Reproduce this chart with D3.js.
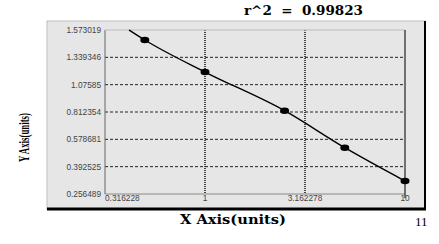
<!DOCTYPE html>
<html>
<head>
<meta charset="utf-8">
<script src="https://cdn.jsdelivr.net/npm/d3@7"></script>
<style>
  body { margin: 0; background: #fff; }
  svg { display: block; }
</style>
</head>
<body>
<svg id="chart" width="439" height="244"></svg>
<script>
// data
var xTicks = [0.316228, 1, 3.162278, 10];
var xTickLabels = ['0.316228', '1', '3.162278', '10'];
var yTicks = [1.573019, 1.339346, 1.07585, 0.812354, 0.578681, 0.392525, 0.256489];
var yTickLabels = ['1.573019', '1.339346', '1.07585', '0.812354', '0.578681', '0.392525', '0.256489'];
var pointX = [0.5, 1, 2.5, 5, 10];
var pointY = [1.4875, 1.1978, 0.8247, 0.5215, 0.3211];
var fitX = [0.417, 0.5, 1, 2.5, 5, 10];
var fitY = [1.573019, 1.4875, 1.1978, 0.8247, 0.5215, 0.3211];

var svg = d3.select('#chart');

var PLOT_L = 105, PLOT_R = 405, PLOT_T = 30, PLOT_B = 194;

var x = d3.scaleLog().domain([0.316228, 10]).range([PLOT_L, PLOT_R]);
// y axis ticks are evenly spaced, so map them piecewise
var y = d3.scaleLinear()
  .domain(yTicks)
  .range(yTicks.map(function (d, i) { return PLOT_T + i * (PLOT_B - PLOT_T) / (yTicks.length - 1); }));

// outer panel
svg.append('rect')
  .attr('x', 47).attr('y', 21).attr('width', 378).attr('height', 188)
  .attr('fill', '#e6e6e6').attr('stroke', '#bdbdbd').attr('stroke-width', 1);
svg.append('line').attr('x1', 47).attr('x2', 426).attr('y1', 209).attr('y2', 209)
  .attr('stroke', '#000').attr('stroke-width', 3);
svg.append('line').attr('x1', 425).attr('x2', 425).attr('y1', 21).attr('y2', 210)
  .attr('stroke', '#000').attr('stroke-width', 2);

// plot area
svg.append('rect')
  .attr('x', PLOT_L).attr('y', PLOT_T).attr('width', PLOT_R - PLOT_L).attr('height', PLOT_B - PLOT_T)
  .attr('fill', '#e6e6e6');

// grid
svg.append('g').selectAll('line')
  .data(yTicks.slice(1, -1))
  .join('line')
  .attr('x1', PLOT_L).attr('x2', PLOT_R)
  .attr('y1', function (d) { return y(d); }).attr('y2', function (d) { return y(d); })
  .attr('stroke', '#222').attr('stroke-width', 1).attr('stroke-dasharray', '3,2');

svg.append('g').selectAll('line')
  .data(xTicks.slice(1, -1))
  .join('line')
  .attr('x1', function (d) { return x(d); }).attr('x2', function (d) { return x(d); })
  .attr('y1', PLOT_T).attr('y2', PLOT_B)
  .attr('stroke', '#111').attr('stroke-width', 1.5).attr('stroke-dasharray', '1,1');

// plot borders
svg.append('line').attr('x1', PLOT_L).attr('x2', PLOT_L).attr('y1', PLOT_T).attr('y2', PLOT_B)
  .attr('stroke', '#666').attr('stroke-width', 1);
svg.append('line').attr('x1', PLOT_L).attr('x2', PLOT_R).attr('y1', PLOT_B).attr('y2', PLOT_B)
  .attr('stroke', '#888').attr('stroke-width', 1);
svg.append('line').attr('x1', PLOT_L).attr('x2', PLOT_R).attr('y1', PLOT_T).attr('y2', PLOT_T)
  .attr('stroke', '#bbb').attr('stroke-width', 1);
svg.append('line').attr('x1', PLOT_R).attr('x2', PLOT_R).attr('y1', PLOT_T).attr('y2', PLOT_B + 4)
  .attr('stroke', '#222').attr('stroke-width', 1.2);

// y tick labels
svg.append('g').selectAll('text')
  .data(yTicks)
  .join('text')
  .attr('x', 101)
  .attr('y', function (d) { return y(d) + 3; })
  .attr('text-anchor', 'end')
  .attr('font-family', 'Liberation Sans, Arial, sans-serif')
  .attr('font-size', 8.3)
  .attr('fill', '#444')
  .text(function (d, i) { return yTickLabels[i]; });

// x tick labels
svg.append('g').selectAll('text')
  .data(xTicks)
  .join('text')
  .attr('x', function (d) { return x(d); })
  .attr('y', 201)
  .attr('text-anchor', function (d, i) { return i === 0 ? 'start' : 'middle'; })
  .attr('font-family', 'Liberation Sans, Arial, sans-serif')
  .attr('font-size', 8.3)
  .attr('fill', '#444')
  .text(function (d, i) { return xTickLabels[i]; });

// fit curve
var fitLine = d3.line()
  .x(function (d) { return x(d[0]); })
  .y(function (d) { return y(d[1]); })
  .curve(d3.curveMonotoneX);
svg.append('path')
  .datum(d3.zip(fitX, fitY))
  .attr('d', fitLine)
  .attr('fill', 'none').attr('stroke', '#000').attr('stroke-width', 1.4);

// points
svg.append('g').selectAll('ellipse')
  .data(d3.zip(pointX, pointY))
  .join('ellipse')
  .attr('cx', function (d) { return x(d[0]); })
  .attr('cy', function (d) { return y(d[1]); })
  .attr('rx', 4.5).attr('ry', 3.3)
  .attr('fill', '#000');

// texts
svg.append('text')
  .attr('x', 244).attr('y', 15)
  .style('white-space', 'pre')
  .attr('font-family', 'DejaVu Serif, serif').attr('font-weight', 'bold')
  .attr('font-size', 12).attr('textLength', 119).attr('lengthAdjust', 'spacingAndGlyphs')
  .text('r^2  =  0.99823');

svg.append('text')
  .attr('x', 180).attr('y', 224)
  .attr('font-family', 'DejaVu Serif, serif').attr('font-weight', 'bold')
  .attr('font-size', 12).attr('textLength', 106).attr('lengthAdjust', 'spacingAndGlyphs')
  .text('X Axis(units)');

svg.append('text')
  .attr('transform', 'translate(29,162) rotate(-90)')
  .attr('font-family', 'Liberation Serif, serif').attr('font-weight', 'bold')
  .attr('font-size', 15).attr('textLength', 49).attr('lengthAdjust', 'spacingAndGlyphs')
  .text('Y Axis(units)');

svg.append('text')
  .attr('x', 415).attr('y', 226)
  .attr('font-family', 'Liberation Serif, serif')
  .attr('font-size', 13)
  .text('11');
</script>
</body>
</html>
